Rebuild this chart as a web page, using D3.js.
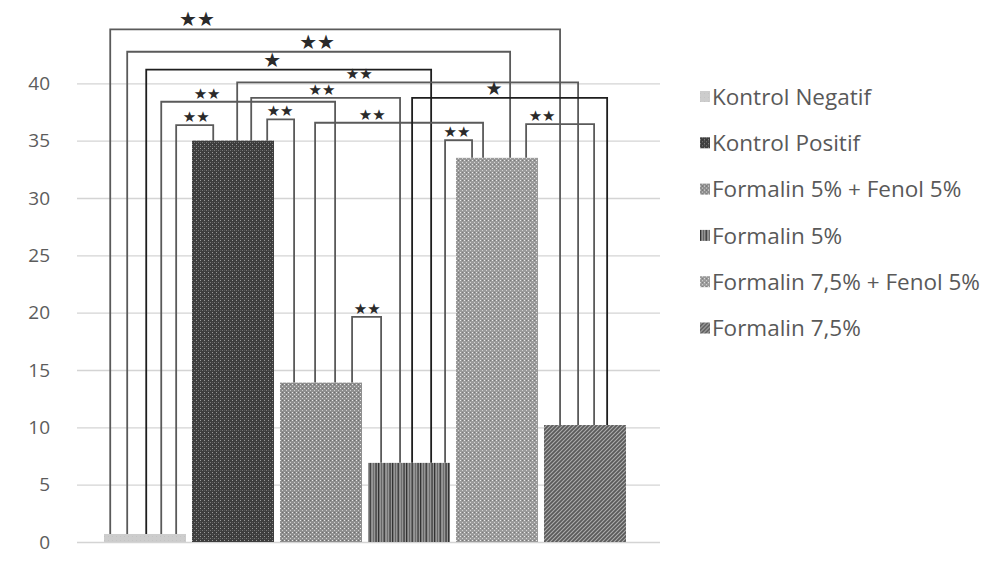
<!DOCTYPE html>
<html>
<head>
<meta charset="utf-8">
<script src="https://cdn.jsdelivr.net/npm/d3@7/dist/d3.min.js"></script>
<style>
  html, body { margin: 0; padding: 0; background: #fff; }
  svg { display: block; }
</style>
</head>
<body>
<svg id="chart" width="997" height="567"></svg>
<script>
// Groups and measured means
const categories = [
  "Kontrol Negatif",
  "Kontrol Positif",
  "Formalin 5% + Fenol 5%",
  "Formalin 5%",
  "Formalin 7,5% + Fenol 5%",
  "Formalin 7,5%"
];
const values = [0.7, 35.0, 13.9, 6.9, 33.5, 10.2];
const yTicks = [0, 5, 10, 15, 20, 25, 30, 35, 40];

// Pairwise comparisons (indices into categories) and their significance marks
const comparisons = [[0,5],[0,4],[0,3],[0,2],[0,1],[1,2],[1,3],[1,5],[2,3],[2,4],[3,4],[3,5],[4,5]];
const significance = ["**","**","*","**","**","**","**","**","**","**","**","*","**"];

// Bracket layout: height in axis units, where each leg lands across its bar,
// where the mark sits along the bracket, and the mark size
const bracketLevels  = [44.7, 42.75, 41.2, 38.39, 36.36, 36.85, 38.73, 40.08, 19.64, 36.56, 35.05, 38.73, 36.44];
const bracketAnchors = [[0.076,0.196],[0.283,0.66],[0.515,0.77],[0.698,0.672],[0.88,0.259],[0.917,0.172],
                        [0.722,0.391],[0.551,0.416],[0.879,0.16],[0.428,0.33],[0.94,0.196],[0.538,0.77],[0.855,0.611]];
const labelAlong     = [0.193,0.496,0.442,0.264,0.54,0.48,0.476,0.358,0.52,0.34,0.44,0.42,0.235];
const labelSizes     = [20,20,20,15,15,15,15,15,15,15,15,19,15];

const svg = d3.select("#chart");
const defs = svg.append("defs");

// Fill patterns, one per group
function pattern(id, w, h, bg, draw) {
  const p = defs.append("pattern").attr("id", id)
    .attr("patternUnits", "userSpaceOnUse").attr("width", w).attr("height", h);
  p.append("rect").attr("width", w).attr("height", h).attr("fill", bg);
  draw(p);
}
pattern("p0", 4, 4, "#cdcdcd", p => {
  p.append("rect").attr("x", 0).attr("y", 0).attr("width", 1).attr("height", 1).attr("fill", "#c4c4c4");
});
pattern("p1", 4, 4, "#3d3d3d", p => {
  p.append("rect").attr("x", 0).attr("y", 0).attr("width", 1).attr("height", 1).attr("fill", "#9a9a9a");
  p.append("rect").attr("x", 2).attr("y", 2).attr("width", 1).attr("height", 1).attr("fill", "#7a7a7a");
  p.append("rect").attr("x", 0).attr("y", 2).attr("width", 1).attr("height", 1).attr("fill", "#575757");
});
pattern("p2", 4, 4, "#8f8f8f", p => {
  p.append("rect").attr("x", 0).attr("y", 0).attr("width", 1).attr("height", 1).attr("fill", "#e8e8e8");
  p.append("rect").attr("x", 2).attr("y", 2).attr("width", 1).attr("height", 1).attr("fill", "#d0d0d0");
  p.append("rect").attr("x", 2).attr("y", 0).attr("width", 1).attr("height", 1).attr("fill", "#6e6e6e");
});
pattern("p3", 14, 4, "#959595", p => {
  [[0,1.3,"#333"],[3,1,"#666"],[5.5,1.6,"#444"],[9,1,"#6e6e6e"],[11.5,1.1,"#2a2a2a"]].forEach(([x,w,c]) =>
    p.append("rect").attr("x", x).attr("y", 0).attr("width", w).attr("height", 4).attr("fill", c));
});
pattern("p4", 4, 4, "#9b9b9b", p => {
  p.append("rect").attr("x", 0).attr("y", 0).attr("width", 1).attr("height", 1).attr("fill", "#ececec");
  p.append("rect").attr("x", 2).attr("y", 2).attr("width", 1).attr("height", 1).attr("fill", "#d6d6d6");
  p.append("rect").attr("x", 2).attr("y", 0).attr("width", 1).attr("height", 1).attr("fill", "#7a7a7a");
});
pattern("p5", 4, 4, "#5a5a5a", p => {
  p.append("path").attr("d", "M0,4 L4,0 M-1,1 L1,-1 M3,5 L5,3")
    .attr("stroke", "#adadad").attr("stroke-width", 1.1);
});

// Scales
const x = d3.scaleBand().domain(d3.range(categories.length))
  .range([101, 629]).paddingInner(0.068).paddingOuter(0.034);
const y = d3.scaleLinear().domain([0, 40]).range([542, 83.3]);

const gridLeft = 77, gridRight = 660;

// Horizontal gridlines and tick labels
const axis = d3.axisLeft(y).tickValues(yTicks).tickSize(-(gridRight - gridLeft)).tickPadding(27);
const gAxis = svg.append("g").attr("transform", `translate(${gridLeft},0)`).call(axis);
gAxis.select(".domain").remove();
gAxis.selectAll(".tick line").attr("stroke", "#d4d4d4").attr("stroke-width", 1.3);
gAxis.selectAll(".tick text")
  .attr("fill", "#5c5c5c").attr("font-family", "'Open Sans', sans-serif").attr("font-size", 19);

// Bars
svg.append("g").selectAll("rect").data(values).join("rect")
  .attr("x", (d, i) => x(i)).attr("width", x.bandwidth())
  .attr("y", d => y(d)).attr("height", d => y(0) - y(d))
  .attr("fill", (d, i) => `url(#p${i})`);

// Significance brackets
const gBr = svg.append("g");
comparisons.forEach(([a, b], k) => {
  const xa = x(a) + bracketAnchors[k][0] * x.bandwidth();
  const xb = x(b) + bracketAnchors[k][1] * x.bandwidth();
  const yl = y(bracketLevels[k]);
  const single = significance[k] === "*";
  gBr.append("path")
    .attr("d", `M${xa},${y(values[a])} V${yl} H${xb} V${y(values[b])}`)
    .attr("fill", "none")
    .attr("stroke", single ? "#1e1e1e" : "#5a5a5a")
    .attr("stroke-width", 1.8);
  gBr.append("text")
    .attr("x", xa + labelAlong[k] * (xb - xa))
    .attr("y", yl - 3)
    .attr("text-anchor", "middle")
    .attr("font-family", "'DejaVu Sans', sans-serif")
    .attr("font-size", labelSizes[k])
    .attr("fill", "#2a2a2a")
    .text(significance[k].replace(/\*/g, "\u2605"));
});

// Legend
const legend = svg.append("g").attr("transform", "translate(700,97)");
const rows = legend.selectAll("g").data(categories).join("g")
  .attr("transform", (d, i) => `translate(0,${i * 46.3})`);
rows.append("rect").attr("x", 0).attr("y", -6).attr("width", 10).attr("height", 11)
  .attr("fill", (d, i) => `url(#p${i})`);
rows.append("text").attr("x", 12).attr("y", 0).attr("dy", "0.35em")
  .attr("font-family", "'Open Sans', sans-serif").attr("font-size", 22.5)
  .attr("fill", "#595959").text(d => d);
</script>
</body>
</html>
